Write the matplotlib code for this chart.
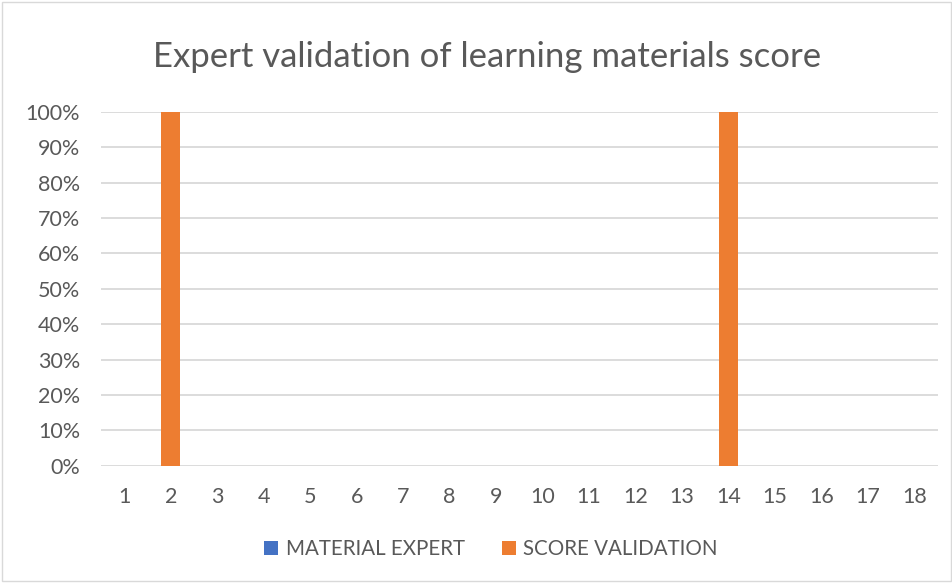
import numpy as np
import matplotlib.pyplot as plt
from matplotlib.patches import Rectangle

# Data
categories = [str(i) for i in range(1, 19)]
material_expert = [0] * 18
score_validation = [0, 100, 0, 0, 0, 0, 0, 0, 0, 0, 0, 0, 0, 100, 0, 0, 0, 0]
yticks = [0, 10, 20, 30, 40, 50, 60, 70, 80, 90, 100]

plt.rcParams['font.family'] = ['Lato', 'DejaVu Sans']
text_color = "#595959"

fig = plt.figure(figsize=(9.53, 5.83), dpi=100)
ax = fig.add_axes([0.106, 0.2012, 0.878, 0.6072])

x = np.arange(1, len(categories) + 1)
ax.bar(x, material_expert, width=0.4, color="#4472C4", label="MATERIAL EXPERT", zorder=3)
ax.bar(x, score_validation, width=0.4, color="#ED7D31", label="SCORE VALIDATION", zorder=3)

ax.set_xlim(0.5, len(categories) + 0.5)
ax.set_ylim(0, 100)
ax.set_xticks(x)
ax.set_xticklabels(categories)
ax.set_yticks(yticks)
ax.set_yticklabels([f"{v}%" for v in yticks])
ax.tick_params(length=0, labelsize=15.5, colors=text_color)
ax.tick_params(axis="x", pad=15)
ax.tick_params(axis="y", pad=15)
ax.grid(axis="y", color="#d9d9d9", linewidth=1.3, zorder=0)
for s in ax.spines.values():
    s.set_visible(False)
ax.set_axisbelow(True)

fig.text(0.511, 0.902, "Expert validation of learning materials score",
         ha="center", va="center", fontsize=25, color=text_color)

leg = fig.legend(loc="center", bbox_to_anchor=(0.515, 0.058), ncol=2, frameon=False,
                 fontsize=14.8, handlelength=0.68, handleheight=0.68, handletextpad=0.35,
                 columnspacing=1.8)
for t in leg.get_texts():
    t.set_color(text_color)

fig.patches.append(Rectangle((0.002, 0.004), 0.996, 0.992, transform=fig.transFigure,
                             fill=False, edgecolor="#d9d9d9", linewidth=1))

fig.savefig("out.png", dpi=100)
